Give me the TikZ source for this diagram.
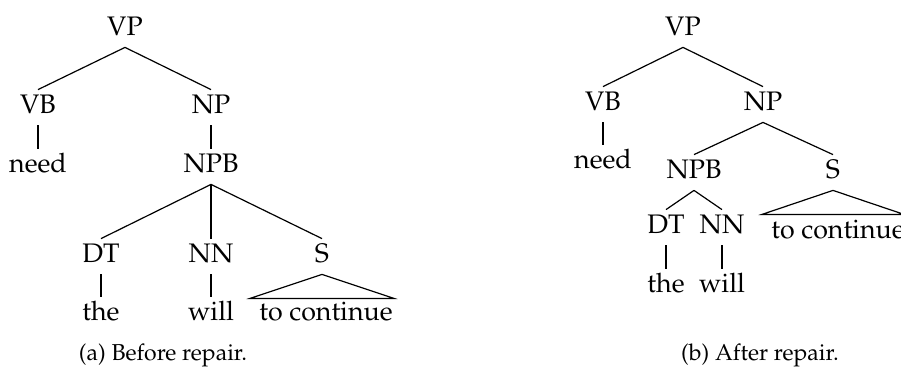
\documentclass[tikz,border=0pt]{standalone}
\usepackage[T1]{fontenc}
\usepackage{mathpazo}
\usepackage{tikz}

\begin{document}
\begin{tikzpicture}[x=0.5pt, y=-0.5pt]

\tikzset{
  cat/.style    = {anchor=base, inner sep=0pt, text height=11.5pt,
                   text depth=6pt, font=\fontsize{13.4}{15}\selectfont},
  word/.style   = {cat},
  branch/.style = {line width=0.6pt, black},
  subcap/.style = {anchor=base, inner sep=0pt, font=\fontsize{11.5}{13}\selectfont}
}

\useasboundingbox (0,0) rectangle (901,370);

%% ── (a) Before repair ───────────────────────────────────────────
\node[cat]  (vpL)   at (125, 35)  {VP};
\node[cat]  (vbL)   at (38, 113)  {VB};
\node[cat]  (npL)   at (211, 113) {NP};
\node[word] (needL) at (38, 172)  {need};
\node[cat]  (npbL)  at (211, 172) {NPB};
\node[cat]  (dtL)   at (101, 262) {DT};
\node[cat]  (nnL)   at (211, 262) {NN};
\node[cat]  (sL)    at (322, 262) {S};
\node[word] (theL)  at (101, 320) {the};
\node[word] (willL) at (211, 320) {will};
\node[word] (roofL) at (326, 320) {to continue};

\node[subcap] (capA) at (163, 360) {(a) Before repair.};

%% ── (b) After repair ────────────────────────────────────────────
\node[cat]  (vpR)   at (683, 35)  {VP};
\node[cat]  (vbR)   at (603, 110) {VB};
\node[cat]  (npR)   at (763, 110) {NP};
\node[word] (needR) at (603, 168) {need};
\node[cat]  (npbR)  at (694, 178) {NPB};
\node[cat]  (sR)    at (833, 178) {S};
\node[cat]  (dtR)   at (666, 233) {DT};
\node[cat]  (nnR)   at (722, 233) {NN};
\node[word] (theR)  at (666, 292) {the};
\node[word] (willR) at (722, 292) {will};
\node[word] (roofR) at (838, 238) {to continue};

\node[subcap] (capB) at (760, 360) {(b) After repair.};

%% ── Branches: (a) ───────────────────────────────────────────────
\draw[branch] (vpL.south)  -- (vbL.north);
\draw[branch] (vpL.south)  -- (npL.north);
\draw[branch] (vbL.south)  -- (needL.north);
\draw[branch] (npL.south)  -- (npbL.north);
\draw[branch] (npbL.south) -- (dtL.north);
\draw[branch] (npbL.south) -- (nnL.north);
\draw[branch] (npbL.south) -- (sL.north);
\draw[branch] (dtL.south)  -- (theL.north);
\draw[branch] (nnL.south)  -- (willL.north);
\draw[branch] (sL.south) -- ++(-72,24) -- ++(144,0) -- cycle;

%% ── Branches: (b) ───────────────────────────────────────────────
\draw[branch] (vpR.south)  -- (vbR.north);
\draw[branch] (vpR.south)  -- (npR.north);
\draw[branch] (vbR.south)  -- (needR.north);
\draw[branch] (npR.south)  -- (npbR.north);
\draw[branch] (npR.south)  -- (sR.north);
\draw[branch] (npbR.south) -- (dtR.north);
\draw[branch] (npbR.south) -- (nnR.north);
\draw[branch] (dtR.south)  -- (theR.north);
\draw[branch] (nnR.south)  -- (willR.north);
\draw[branch] (sR.south) -- ++(-71,24) -- ++(142,0) -- cycle;

\end{tikzpicture}
\end{document}
